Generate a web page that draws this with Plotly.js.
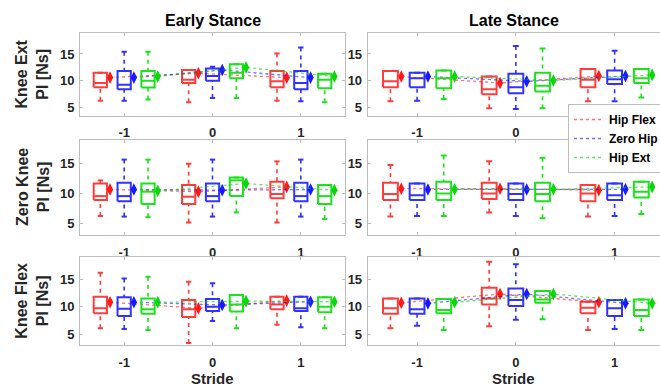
<!DOCTYPE html>
<html><head><meta charset="utf-8">
<script src="https://cdn.plot.ly/plotly-3.0.1.min.js"></script>
<style>html,body{margin:0;padding:0;overflow:hidden;background:#fff}#chart{width:664px;height:388px}</style>
</head><body><div id="chart"></div>
<script>
// ---------- categories / labels ----------
const strides = [-1, 0, 1];
const strideTicks = ['-1', '0', '1'];
const conditions = ['Hip Flex', 'Zero Hip', 'Hip Ext'];
const rowLabels = ['Knee Ext', 'Zero Knee', 'Knee Flex'];
const colLabels = ['Early Stance', 'Late Stance'];
const yTicks = [5, 10, 15];

// ---------- data: each array = [Hip Flex, Zero Hip, Hip Ext], each inner = stride [-1, 0, 1] ----------
// Early Stance, Knee Ext
const earlyKneeExtLow  = [[6.3, 6.0, 6.3], [6.3, 6.8, 6.2], [6.5, 6.8, 6.0]];
const earlyKneeExtQ1   = [[8.8, 9.6, 8.8], [8.45, 10.0, 8.45], [8.75, 10.5, 8.6]];
const earlyKneeExtMed  = [[9.6, 10.2, 9.9], [9.25, 10.9, 9.6], [10.0, 11.5, 10.2]];
const earlyKneeExtQ3   = [[11.5, 12.0, 11.85], [11.85, 12.3, 11.85], [11.85, 13.1, 11.3]];
const earlyKneeExtHigh = [[11.5, 12.0, 15.1], [15.4, 12.6, 16.2], [15.4, 13.1, 11.3]];
const earlyKneeExtMean = [[10.6, 11.4, 10.6], [10.6, 12.0, 10.6], [10.8, 12.5, 10.8]];
// Late Stance, Knee Ext
const lateKneeExtLow  = [[6.2, 4.9, 6.2], [6.3, 4.75, 6.2], [6.6, 4.9, 6.9]];
const lateKneeExtQ1   = [[8.8, 7.5, 8.8], [8.8, 7.7, 9.4], [8.6, 8.0, 9.6]];
const lateKneeExtMed  = [[9.9, 8.45, 10.2], [10.5, 8.8, 10.3], [10.5, 9.1, 10.5]];
const lateKneeExtQ3   = [[11.85, 10.8, 12.2], [11.5, 11.3, 11.9], [11.9, 11.5, 12.2]];
const lateKneeExtHigh = [[11.85, 10.8, 12.2], [11.5, 16.5, 15.6], [11.9, 16.0, 12.2]];
const lateKneeExtMean = [[10.8, 9.6, 10.9], [10.8, 9.9, 10.9], [10.8, 10.05, 11.1]];
// Early Stance, Zero Knee
const earlyZeroKneeLow  = [[6.2, 5.1, 5.1], [6.1, 6.1, 6.1], [6.0, 6.8, 5.7]];
const earlyZeroKneeQ1   = [[8.9, 8.2, 9.2], [8.7, 8.7, 8.7], [8.2, 9.55, 8.2]];
const earlyZeroKneeMed  = [[9.55, 9.45, 9.9], [9.55, 9.55, 9.55], [10.3, 12.2, 9.55]];
const earlyZeroKneeQ3   = [[11.67, 11.4, 11.95], [11.8, 11.67, 11.8], [11.67, 12.67, 11.4]];
const earlyZeroKneeHigh = [[12.2, 15.0, 15.4], [15.7, 15.7, 15.7], [15.7, 12.67, 11.4]];
const earlyZeroKneeMean = [[10.67, 10.3, 11.1], [10.67, 10.55, 10.67], [10.45, 11.67, 10.55]];
// Late Stance, Zero Knee
const lateZeroKneeLow  = [[6.1, 6.8, 6.1], [6.2, 6.2, 6.2], [6.2, 5.8, 6.55]];
const lateZeroKneeQ1   = [[8.9, 9.05, 8.7], [8.9, 8.9, 8.9], [8.9, 8.7, 9.3]];
const lateZeroKneeMed  = [[9.9, 10.0, 10.0], [9.7, 9.9, 9.7], [10.0, 9.9, 10.3]];
const lateZeroKneeQ3   = [[11.8, 11.8, 11.4], [11.67, 11.67, 11.67], [11.95, 11.8, 11.95]];
const lateZeroKneeHigh = [[14.8, 15.4, 11.4], [11.67, 11.67, 11.67], [16.4, 16.0, 11.95]];
const lateZeroKneeMean = [[10.8, 10.8, 10.55], [10.67, 10.67, 10.7], [10.7, 10.7, 11.1]];
// Early Stance, Knee Flex
const earlyKneeFlexLow  = [[6.05, 3.35, 6.7], [5.9, 7.4, 6.25], [5.75, 6.05, 6.05]];
const earlyKneeFlexQ1   = [[8.8, 8.1, 9.5], [8.3, 9.2, 9.2], [8.7, 9.1, 8.97]];
const earlyKneeFlexMed  = [[9.7, 9.5, 10.4], [9.6, 10.0, 9.7], [9.5, 10.4, 10.0]];
const earlyKneeFlexQ3   = [[11.8, 11.2, 11.8], [11.7, 11.4, 11.8], [11.5, 12.1, 11.7]];
const earlyKneeFlexHigh = [[16.2, 14.55, 11.8], [15.15, 14.25, 11.8], [15.45, 12.1, 11.7]];
const earlyKneeFlexMean = [[10.8, 9.7, 11.1], [10.8, 10.3, 10.9], [10.8, 11.0, 10.9]];
// Late Stance, Knee Flex
const lateKneeFlexLow  = [[6.05, 6.4, 5.75], [6.5, 7.6, 5.9], [5.75, 7.7, 5.75]];
const lateKneeFlexQ1   = [[8.7, 10.4, 8.8], [8.7, 10.1, 8.3], [8.8, 10.7, 8.3]];
const lateKneeFlexMed  = [[9.7, 11.5, 9.8], [9.5, 11.2, 9.7], [9.4, 11.3, 9.4]];
const lateKneeFlexQ3   = [[11.5, 13.45, 10.9], [11.5, 13.3, 11.2], [11.4, 12.85, 11.3]];
const lateKneeFlexHigh = [[11.5, 18.2, 10.9], [11.5, 17.75, 11.2], [11.4, 12.85, 11.3]];
const lateKneeFlexMean = [[10.7, 12.3, 10.8], [10.6, 12.3, 10.6], [10.8, 12.3, 10.6]];

// ---------- panel table (row, col) built from the arrays ----------
const panels = [
  {row: 0, col: 0, low: earlyKneeExtLow, q1: earlyKneeExtQ1, med: earlyKneeExtMed, q3: earlyKneeExtQ3, high: earlyKneeExtHigh, mean: earlyKneeExtMean},
  {row: 0, col: 1, low: lateKneeExtLow, q1: lateKneeExtQ1, med: lateKneeExtMed, q3: lateKneeExtQ3, high: lateKneeExtHigh, mean: lateKneeExtMean},
  {row: 1, col: 0, low: earlyZeroKneeLow, q1: earlyZeroKneeQ1, med: earlyZeroKneeMed, q3: earlyZeroKneeQ3, high: earlyZeroKneeHigh, mean: earlyZeroKneeMean},
  {row: 1, col: 1, low: lateZeroKneeLow, q1: lateZeroKneeQ1, med: lateZeroKneeMed, q3: lateZeroKneeQ3, high: lateZeroKneeHigh, mean: lateZeroKneeMean},
  {row: 2, col: 0, low: earlyKneeFlexLow, q1: earlyKneeFlexQ1, med: earlyKneeFlexMed, q3: earlyKneeFlexQ3, high: earlyKneeFlexHigh, mean: earlyKneeFlexMean},
  {row: 2, col: 1, low: lateKneeFlexLow, q1: lateKneeFlexQ1, med: lateKneeFlexMed, q3: lateKneeFlexQ3, high: lateKneeFlexHigh, mean: lateKneeFlexMean}
];

// ---------- style ----------
const W = 664, H = 388;
const FONT = 'Liberation Sans, Arial, Helvetica, sans-serif';
const boxColors = ['rgb(255,60,60)', 'rgb(50,50,255)', 'rgb(30,225,30)'];
const markColors = ['rgb(255,25,25)', 'rgb(25,25,255)', 'rgb(10,215,10)'];
const meanLineColors = ['rgba(255,0,0,0.55)', 'rgba(0,0,255,0.55)', 'rgba(0,210,0,0.6)'];
const groupOffset = [-0.27, 0, 0.27];
const meanShift = 0.11, boxW = 0.15, capW = 0.06;
const xDom = [[80 / W, 345 / W], [367.7 / W, 1]];
const yDomPx = [[32.5, 115.7], [140, 235], [257.3, 345]];
const yRanges = [[3.5, 19], [3, 19], [3, 19]];
const axisGray = '#bdbdbd';

const traces = [];
panels.forEach((p, pi) => {
  const sfx = pi === 0 ? '' : String(pi + 1);
  for (let k = 0; k < 3; k++) {
    const bx = [], by = [], wx = [], wy = [];
    strides.forEach((s, j) => {
      const c = s + groupOffset[k], L = c - boxW / 2, R = c + boxW / 2;
      const lo = p.low[k][j], a = p.q1[k][j], m = p.med[k][j], b = p.q3[k][j], hi = p.high[k][j];
      bx.push(L, R, R, L, L, null, L, R, null, c - capW / 2, c + capW / 2, null, c - capW / 2, c + capW / 2, null);
      by.push(a, a, b, b, a, null, m, m, null, hi, hi, null, lo, lo, null);
      wx.push(c, c, null, c, c, null);
      wy.push(hi, b, null, lo, a, null);
    });
    traces.push({type: 'scatter', mode: 'lines', x: wx, y: wy, xaxis: 'x' + sfx, yaxis: 'y' + sfx,
      line: {color: boxColors[k], width: 1.6, dash: '4px,4px'}, showlegend: false, hoverinfo: 'skip'});
    traces.push({type: 'scatter', mode: 'lines', x: bx, y: by, xaxis: 'x' + sfx, yaxis: 'y' + sfx,
      line: {color: boxColors[k], width: 2}, showlegend: false, hoverinfo: 'skip'});
    traces.push({type: 'scatter', mode: 'lines+markers', x: strides.map(s => s + groupOffset[k] + meanShift), y: p.mean[k],
      xaxis: 'x' + sfx, yaxis: 'y' + sfx, line: {color: meanLineColors[k], width: 1.3, dash: 'dot'},
      marker: {symbol: 'diamond-tall', size: 9, color: markColors[k]}, showlegend: false, hoverinfo: 'skip'});
  }
});
for (let k = 0; k < 3; k++) {
  traces.push({type: 'scatter', mode: 'lines', x: [null], y: [null], name: conditions[k],
    line: {color: meanLineColors[k], width: 1.5, dash: 'dot'}, showlegend: true});
}

const layout = {
  width: W, height: H, margin: {l: 0, r: 0, t: 0, b: 0},
  paper_bgcolor: '#fff', plot_bgcolor: '#fff',
  font: {family: FONT, color: '#262626'},
  showlegend: true,
  legend: {x: 1, xanchor: 'right', y: 1 - 104 / H, yanchor: 'top', bgcolor: '#fff', bordercolor: axisGray, borderwidth: 1,
    font: {family: FONT, size: 12, weight: 'bold', color: '#000'}, itemwidth: 30, tracegroupgap: 0},
  annotations: []
};
panels.forEach((p, pi) => {
  const sfx = pi === 0 ? '' : String(pi + 1);
  const yd = yDomPx[p.row];
  layout['xaxis' + sfx] = {domain: xDom[p.col], anchor: 'y' + sfx, range: [-1.5, 1.5], tickvals: strides, ticktext: strideTicks,
    ticks: 'inside', ticklen: 3, tickcolor: axisGray, showline: true, linecolor: axisGray, linewidth: 1, mirror: 'ticks',
    showgrid: false, zeroline: false, fixedrange: true, ticklabelstandoff: 5,
    tickfont: {family: FONT, size: 13, weight: 'bold', color: '#262626'}};
  layout['yaxis' + sfx] = {domain: [1 - yd[1] / H, 1 - yd[0] / H], anchor: 'x' + sfx, range: yRanges[p.row], tickvals: yTicks,
    ticks: 'inside', ticklen: 3, tickcolor: axisGray, showline: true, linecolor: axisGray, linewidth: 1, mirror: 'ticks',
    showgrid: false, zeroline: false, fixedrange: true, ticklabelstandoff: 2,
    tickfont: {family: FONT, size: 13, weight: 'bold', color: '#262626'}};
});
colLabels.forEach((t, c) => {
  const xc = (xDom[c][0] + (c === 1 ? (660 / W) : xDom[c][1])) / 2;
  layout.annotations.push({text: '<b>' + t + '</b>', xref: 'paper', yref: 'paper', x: xc, y: 1 - 20 / H,
    xanchor: 'center', yanchor: 'middle', showarrow: false, font: {family: FONT, size: 16, color: '#000'}});
  layout.annotations.push({text: '<b>Stride</b>', xref: 'paper', yref: 'paper', x: xc, y: 1 - 378.5 / H,
    xanchor: 'center', yanchor: 'middle', showarrow: false, font: {family: FONT, size: 15, color: '#262626'}});
});
rowLabels.forEach((t, r) => {
  const yc = 1 - (yDomPx[r][0] + yDomPx[r][1]) / 2 / H;
  layout.annotations.push({text: '<b>' + t + '</b><br><b>PI [Ns]</b>', xref: 'paper', yref: 'paper', x: 32.5 / W, y: yc,
    xanchor: 'center', yanchor: 'middle', textangle: -90, showarrow: false, font: {family: FONT, size: 16, color: '#262626'}});
});

Plotly.newPlot('chart', traces, layout, {displayModeBar: false, staticPlot: true});
</script>
</body></html>
